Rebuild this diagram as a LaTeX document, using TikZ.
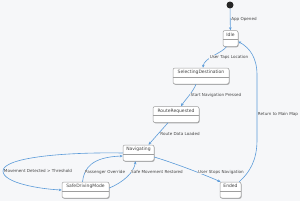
\documentclass[tikz,border=0pt]{standalone}
\usepackage{fontspec}
\setmainfont{DejaVu Sans}
\usetikzlibrary{arrows.meta,shadows}
\definecolor{bgc}{HTML}{F6F7F9}
\definecolor{edgec}{HTML}{5B9BD9}
\definecolor{boxline}{HTML}{9E9E9E}
\definecolor{txtc}{HTML}{444444}
\tikzset{
  state/.style={draw=boxline, fill=white, rounded corners=2pt, line width=0.5pt,
    minimum height=16pt, inner xsep=1pt, inner ysep=0pt, text height=5.5pt, text depth=10.5pt,
    font=\fontsize{4.5}{5}\selectfont, text=txtc,
    drop shadow={shadow xshift=0.6pt, shadow yshift=-0.8pt, opacity=0.3, fill=black},
    path picture={\draw[boxline,line width=0.4pt]
      ([yshift=-9pt]path picture bounding box.north west) --
      ([yshift=-9pt]path picture bounding box.north east);}},
  conn/.style={draw=edgec, line width=0.6pt, -{Stealth[length=3pt,width=2.6pt]}},
  lbl/.style={font=\fontsize{4.1}{4.6}\selectfont, text=txtc, fill=bgc, inner sep=0.4pt},
}
\begin{document}
\begin{tikzpicture}[x=1pt,y=-1pt]
\fill[bgc] (0,0) rectangle (300,201);
\useasboundingbox (0,0) rectangle (300,201);
\node[circle, fill=black!85, minimum size=7pt, inner sep=0pt] (init) at (230,5) {};
\node[state, minimum width=15pt] (idle) at (230.5,38.5) {Idle};
\node[state, minimum width=56pt] (sel) at (201,76) {SelectingDestination};
\node[state, minimum width=46pt] (rr) at (176,114.5) {RouteRequested};
\node[state, minimum width=31pt] (nav) at (138.5,153) {Navigating};
\node[state, minimum width=47pt] (sdm) at (85.5,190) {SafeDrivingMode};
\node[state, minimum width=21pt] (ended) at (230.5,190) {Ended};

\draw[conn] (init) -- (idle);
\draw[conn] ([xshift=-4pt]idle.south) .. controls (222,53) and (204,58) .. ([xshift=2pt]sel.north);
\draw[conn] ([xshift=-5pt]sel.south) .. controls (193,92) and (185,100) .. ([xshift=5pt]rr.north);
\draw[conn] ([xshift=-8pt]rr.south) -- ([xshift=10pt]nav.north);
\draw[conn] ([yshift=-4pt]nav.east) .. controls (180,165) and (205,175) .. ([xshift=-10pt]ended.north);
\draw[conn] ([xshift=-2pt]ended.north east) .. controls (250,172) and (257,160) .. (257,140) -- (257,75) .. controls (257,58) and (250,48) .. ([yshift=-3pt]idle.east);
\draw[conn] (nav.west) .. controls (60,152) and (3,158) .. (3,171) .. controls (3,183) and (40,189) .. (sdm.west);
\draw[conn] ([xshift=-3pt]sdm.north) .. controls (84,168) and (92,157) .. ([yshift=-3pt]nav.west);
\draw[conn] ([yshift=2pt]sdm.east) .. controls (124,182) and (134,172) .. ([xshift=-3pt]nav.south);

\node[lbl] (l1) at (244,19) {App Opened};
\node[lbl] (l2) at (229,57) {User Taps Location};
\node[lbl] (l3) at (216,95) {Start Navigation Pressed};
\node[lbl] (l4) at (180,134) {Route Data Loaded};
\node[lbl] (l5) at (221,172) {User Stops Navigation};
\node[lbl] (l6) at (278,114) {Return to Main Map};
\node[lbl] (l7) at (38,171) {Movement Detected > Threshold};
\node[lbl] (l8) at (105,172) {Passenger Override};
\node[lbl] (l9) at (157,172) {Safe Movement Restored};
\end{tikzpicture}
\end{document}
